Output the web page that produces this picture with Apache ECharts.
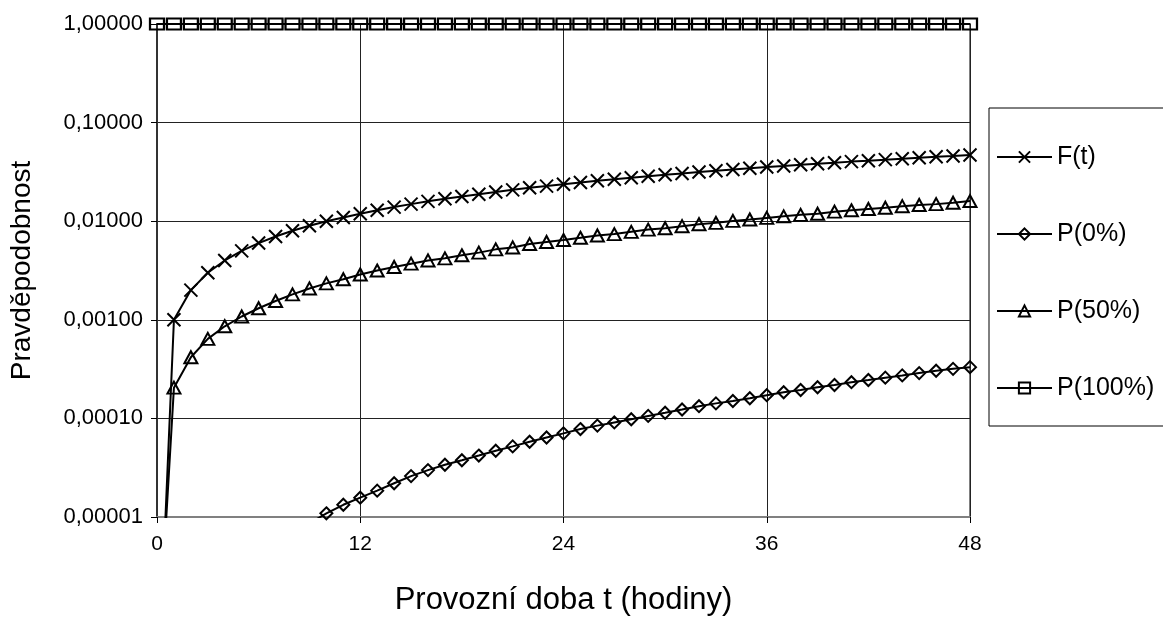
<!DOCTYPE html>
<html>
<head>
<meta charset="utf-8">
<script src="https://cdn.jsdelivr.net/npm/echarts@6/dist/echarts.min.js"></script>
<style>
html,body{margin:0;padding:0;background:#fff;}
#chart{width:1163px;height:621px;}
</style>
</head>
<body>
<div id="chart"></div>
<script>
// Hours 0..48
var hours = [0,1,2,3,4,5,6,7,8,9,10,11,12,13,14,15,16,17,18,19,20,21,22,23,24,25,26,27,28,29,30,31,32,33,34,35,36,37,38,39,40,41,42,43,44,45,46,47,48];

var seriesNames = ['F(t)', 'P(0%)', 'P(50%)', 'P(100%)'];

var valuesF = [1e-7,0.0010,0.0020,0.0030,0.0040,0.0050,0.0060,0.0070,0.0080,0.0090,
  0.0100,0.0109,0.0119,0.0129,0.0139,0.0149,0.0159,0.0169,0.0178,0.0188,
  0.0198,0.0208,0.0218,0.0227,0.0237,0.0247,0.0257,0.0266,0.0276,0.0286,
  0.0296,0.0305,0.0315,0.0325,0.0334,0.0344,0.0354,0.0363,0.0373,0.0383,
  0.0392,0.0402,0.0411,0.0421,0.0430,0.0440,0.0450,0.0459,0.0469];

var valuesP0 = [1e-9,7e-8,3.2e-7,7.8e-7,1.45e-6,2.4e-6,3.6e-6,5.0e-6,6.7e-6,8.6e-6,
  1.09e-5,1.33e-5,1.57e-5,1.85e-5,2.2e-5,2.6e-5,2.99e-5,3.39e-5,3.76e-5,4.2e-5,
  4.7e-5,5.2e-5,5.8e-5,6.4e-5,7.05e-5,7.8e-5,8.45e-5,9.1e-5,9.8e-5,1.06e-4,
  1.14e-4,1.23e-4,1.33e-4,1.42e-4,1.5e-4,1.6e-4,1.72e-4,1.84e-4,1.94e-4,2.07e-4,
  2.18e-4,2.33e-4,2.45e-4,2.59e-4,2.73e-4,2.88e-4,3.04e-4,3.18e-4,3.31e-4];

var valuesP50 = [2.5e-7,2.05e-4,4.17e-4,6.4e-4,8.6e-4,1.08e-3,1.31e-3,1.55e-3,1.81e-3,2.08e-3,
  2.34e-3,2.58e-3,2.88e-3,3.16e-3,3.43e-3,3.71e-3,4.0e-3,4.2e-3,4.51e-3,4.8e-3,
  5.18e-3,5.42e-3,5.86e-3,6.15e-3,6.44e-3,6.79e-3,7.16e-3,7.4e-3,7.8e-3,8.22e-3,
  8.49e-3,8.9e-3,9.33e-3,9.62e-3,1.007e-2,1.04e-2,1.08e-2,1.12e-2,1.16e-2,1.19e-2,
  1.25e-2,1.29e-2,1.33e-2,1.37e-2,1.42e-2,1.46e-2,1.49e-2,1.54e-2,1.6e-2];

var valuesP100 = [1,1,1,1,1,1,1,1,1,1,1,1,1,1,1,1,1,1,1,1,1,1,1,1,1,1,1,1,1,1,1,1,1,1,1,1,1,1,1,1,1,1,1,1,1,1,1,1,1];

var yTickLabels = ['0,00001','0,00010','0,00100','0,01000','0,10000','1,00000'];
var xTickLabels = ['0','12','24','36','48'];

var xTitle = 'Provozní doba t (hodiny)';
var yTitle = 'Pravděpodobnost';

function pairs(vals) {
  return hours.map(function (h, i) { return [h, vals[i]]; });
}

var FONT = "'Liberation Sans', Arial, sans-serif";
var symbols = ['path://M0,0L10,10M10,0L0,10', 'diamond', 'triangle', 'rect'];
var symbolSizes = [13, 12, [13, 12], [14, 11]];
var allValues = [valuesF, valuesP0, valuesP50, valuesP100];

var series = seriesNames.map(function (name, k) {
  return {
    name: name,
    type: 'line',
    data: pairs(allValues[k]),
    clip: true,
    symbol: symbols[k],
    symbolSize: symbolSizes[k],
    symbolKeepAspect: false,
    showSymbol: true,
    showAllSymbol: true,
    animation: false,
    lineStyle: { color: '#000', width: 2 },
    itemStyle: {
      color: k === 0 ? '#000' : 'rgba(0,0,0,0)',
      borderColor: '#000',
      borderWidth: 2
    },
    emphasis: { disabled: true }
  };
});

var chart = echarts.init(document.getElementById('chart'), null, { renderer: 'canvas' });
chart.setOption({
  backgroundColor: '#fff',
  animation: false,
  textStyle: { fontFamily: FONT },
  grid: {
    left: 157, right: 193, top: 24, bottom: 98,
    show: true, borderColor: '#808080', borderWidth: 2
  },
  legend: {
    data: seriesNames,
    orient: 'vertical',
    left: 989,
    top: 108,
    itemWidth: 55,
    itemHeight: 14,
    itemGap: 49,
    padding: [35, 200, 24, 7],
    borderColor: '#000',
    borderWidth: 1,
    backgroundColor: '#fff',
    textStyle: { fontFamily: FONT, fontSize: 25, color: '#000', lineHeight: 28 }
  },
  xAxis: {
    type: 'value',
    min: 0, max: 48, interval: 12,
    name: xTitle,
    nameLocation: 'middle',
    nameGap: 68,
    nameTextStyle: { fontFamily: FONT, fontSize: 31, color: '#000' },
    axisLine: { show: true, lineStyle: { color: '#808080', width: 2 } },
    axisTick: { show: true, length: 6, lineStyle: { color: '#000' } },
    axisLabel: {
      margin: 17, fontSize: 21, color: '#000', fontFamily: FONT,
      formatter: function (v) { return xTickLabels[Math.round(v / 12)]; }
    },
    splitLine: { show: true, lineStyle: { color: '#222', width: 1 } }
  },
  yAxis: {
    type: 'log',
    logBase: 10,
    min: 0.00001, max: 1,
    name: yTitle,
    nameLocation: 'middle',
    nameGap: 121,
    nameTextStyle: { fontFamily: FONT, fontSize: 28, color: '#000' },
    axisLine: { show: true, lineStyle: { color: '#333', width: 2 } },
    axisTick: { show: true, length: 6, lineStyle: { color: '#000' } },
    axisLabel: {
      margin: 14, fontSize: 22, color: '#000', fontFamily: FONT,
      formatter: function (v) {
        var idx = Math.round(Math.log(v) / Math.LN10) + 5;
        return yTickLabels[idx];
      }
    },
    splitLine: { show: true, lineStyle: { color: '#222', width: 1 } },
    minorTick: { show: false },
    minorSplitLine: { show: false }
  },
  series: series
});
</script>
</body>
</html>
